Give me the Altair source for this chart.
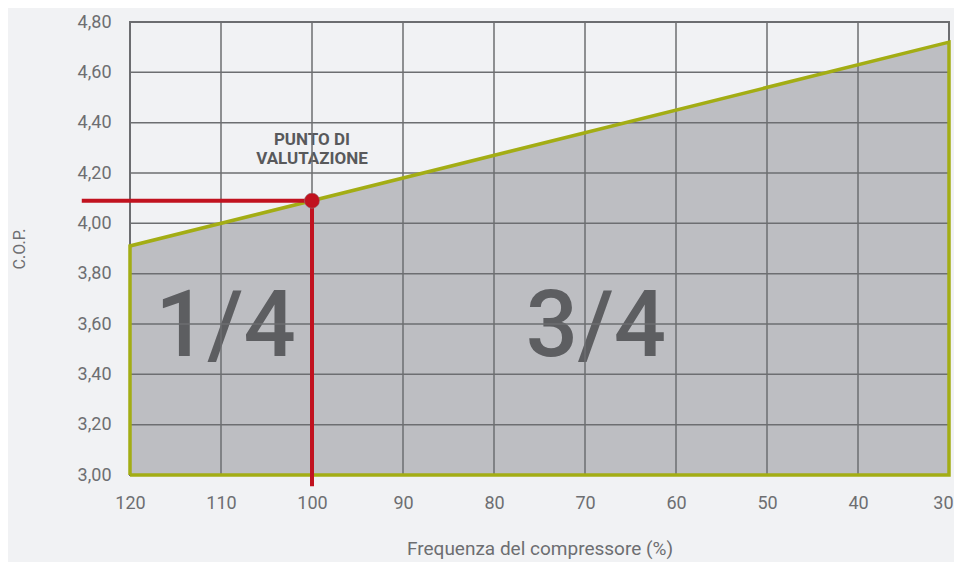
import altair as alt
import pandas as pd

FONT = "Roboto"

# Data
freq_edges = [120, 30]
cop_edges = [3.91, 4.72]
cop_base = 3.00
eval_freq = 100
eval_cop = 4.09
x_ticks = [120, 110, 100, 90, 80, 70, 60, 50, 40, 30]
y_ticks = [3.0, 3.2, 3.4, 3.6, 3.8, 4.0, 4.2, 4.4, 4.6, 4.8]
region_labels = ["1/4", "3/4"]
region_x = [109.5, 68.8]
region_y = [3.585, 3.585]

area_df = pd.DataFrame({"f": freq_edges, "cop": cop_edges, "base": [cop_base, cop_base]})
outline_df = pd.DataFrame({
    "f": [freq_edges[0], freq_edges[0], freq_edges[1], freq_edges[1], freq_edges[0]],
    "cop": [cop_base, cop_edges[0], cop_edges[1], cop_base, cop_base],
    "o": [0, 1, 2, 3, 4],
})
red_h = pd.DataFrame({"f": [125.3, eval_freq], "cop": [eval_cop, eval_cop]})
red_v = pd.DataFrame({"f": [eval_freq, eval_freq], "cop": [eval_cop, 2.955]})
pt_df = pd.DataFrame({"f": [eval_freq], "cop": [eval_cop]})
lab_df = pd.DataFrame({"f": region_x, "cop": region_y, "t": region_labels})
note_df = pd.DataFrame({"f": [eval_freq], "cop": [eval_cop], "t": [["PUNTO DI", "VALUTAZIONE"]]})
xgrid_df = pd.DataFrame({"f": x_ticks})
ygrid_df = pd.DataFrame({"cop": y_ticks})

GRID = "#6d6e71"
xscale = alt.Scale(domain=[120, 30], nice=False, zero=False)
yscale = alt.Scale(domain=[3.0, 4.8], nice=False, zero=False)

xenc = alt.X("f:Q", scale=xscale,
             axis=alt.Axis(values=x_ticks, title="Frequenza del compressore (%)", grid=False,
                           ticks=False, domain=False, labelPadding=19, titlePadding=27,
                           labelFlush=False, labelOverlap=False,
                           labelAlign=alt.condition("datum.value == 30", alt.value("right"), alt.value("center")),
                           labelOffset=alt.condition("datum.value == 30", alt.value(4), alt.value(0)),
                           labelFontSize=18, titleFontSize=19, labelFont=FONT, titleFont=FONT,
                           labelColor="#6d6e71", titleColor="#6d6e71", titleFontWeight="normal"))
yenc = alt.Y("cop:Q", scale=yscale,
             axis=alt.Axis(values=y_ticks, title="C.O.P.", grid=False, ticks=False, domain=False,
                           labelExpr="replace(format(datum.value, '.2f'), '.', ',')",
                           labelFlush=False, labelOverlap=False,
                           labelPadding=19, titlePadding=50, labelFontSize=18, titleFontSize=16,
                           labelFont=FONT, titleFont=FONT, labelColor="#6d6e71",
                           titleColor="#6d6e71", titleFontWeight="normal"))

area = alt.Chart(area_df).mark_area(color="#bdbec2", opacity=1).encode(
    x=xenc, y=yenc, y2="base:Q")

labs = alt.Chart(lab_df).mark_text(font=FONT, fontSize=92, fontWeight=500, color="#5d5e61",
                                   align="center", baseline="middle").encode(
    x="f:Q", y="cop:Q", text="t:N")
note = alt.Chart(note_df).mark_text(font=FONT, fontSize=17, fontWeight="bold", color="#58595b",
                                    align="center", baseline="bottom", dy=-52, lineHeight=19).encode(
    x="f:Q", y="cop:Q", text="t")

vgrid = alt.Chart(xgrid_df).mark_rule(color=GRID, strokeWidth=1.5).encode(x="f:Q")
hgrid = alt.Chart(ygrid_df).mark_rule(color=GRID, strokeWidth=1.5).encode(y="cop:Q")

outline = alt.Chart(outline_df).mark_line(color="#a3ad14", strokeWidth=3.5, strokeJoin="miter").encode(
    x="f:Q", y="cop:Q", order="o:Q")

rh = alt.Chart(red_h).mark_line(color="#c1121f", strokeWidth=4, clip=False).encode(x="f:Q", y="cop:Q")
rv = alt.Chart(red_v).mark_line(color="#c1121f", strokeWidth=4, clip=False).encode(x="f:Q", y="cop:Q")
pt = alt.Chart(pt_df).mark_point(filled=True, color="#c1121f", size=230, opacity=1,
                                 stroke="#8a8b8d", strokeWidth=0.5).encode(x="f:Q", y="cop:Q")

chart = alt.layer(area, labs, note, vgrid, hgrid, outline, rh, rv, pt).properties(
    width=819, height=453,
    autosize=alt.AutoSizeParams(type="none"),
    padding={"left": 122, "top": 14, "right": 5, "bottom": 87},
    background="#f1f2f4",
).configure_view(stroke=GRID, strokeWidth=2, fill="#f1f2f4")

chart.save("out.html", embed_options={"renderer": "svg", "actions": False})
